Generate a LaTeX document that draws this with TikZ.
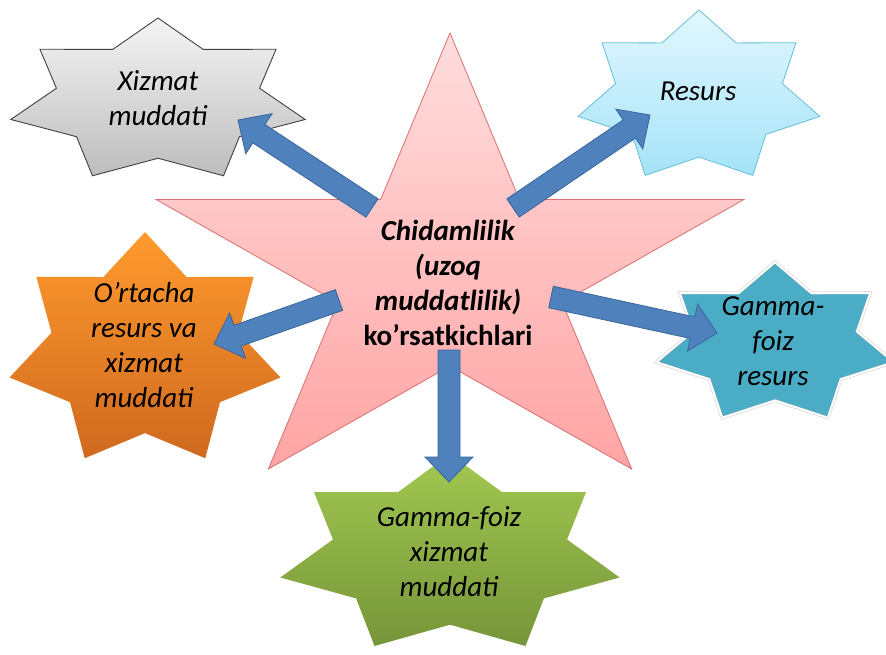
\documentclass[tikz,border=0pt]{standalone}
\usepackage{fontspec}
\setmainfont{Carlito}
\usetikzlibrary{calc}

\definecolor{arrowblue}{HTML}{4F81BD}
\definecolor{arrowedge}{HTML}{3A669B}
\definecolor{pinktop}{HTML}{FFDDDD}
\definecolor{pinkbot}{HTML}{FFA4A4}
\definecolor{pinkedge}{HTML}{D9706F}
\definecolor{greytop}{HTML}{F4F4F4}
\definecolor{greybot}{HTML}{BDBDBD}
\definecolor{skytop}{HTML}{E2F7FE}
\definecolor{skybot}{HTML}{A5E3F8}
\definecolor{skyedge}{HTML}{63BFD9}
\definecolor{orangetop}{HTML}{FF9A2E}
\definecolor{orangebot}{HTML}{CF691F}
\definecolor{teal}{HTML}{4BACC6}
\definecolor{greentop}{HTML}{A2C850}
\definecolor{greenbot}{HTML}{76953A}

% star outline: style, points, inner ratio, centre x, centre y, x radius, y radius
\newcommand{\starpoly}[7]{%
  \pgfmathtruncatemacro\nlast{#2-1}
  \path[#1] ({#4},{#5-#7})
    \foreach \k in {1,...,\nlast}{
      -- ({#4+#3*#6*cos(-90+(2*\k-1)*180/#2)},{#5+#3*#7*sin(-90+(2*\k-1)*180/#2)})
      -- ({#4+#6*cos(-90+\k*360/#2)},{#5+#7*sin(-90+\k*360/#2)})
    }
    -- ({#4+#3*#6*cos(-90-180/#2)},{#5+#3*#7*sin(-90-180/#2)}) -- cycle;
}

% fat arrow from tail #1 to tip #2
\newcommand{\blockarrow}[2]{%
  \path[blockarrow] ($(#1)!11pt!90:(#2)$)
    -- ($(#2)!25pt!(#1)!11pt!-90:(#1)$)
    -- ($(#2)!25pt!(#1)!24pt!-90:(#1)$)
    -- (#2)
    -- ($(#2)!25pt!(#1)!24pt!90:(#1)$)
    -- ($(#2)!25pt!(#1)!11pt!90:(#1)$)
    -- ($(#1)!11pt!-90:(#2)$) -- cycle;
}

\tikzset{
  blockarrow/.style={fill=arrowblue, draw=arrowedge, line width=0.8pt, line join=miter},
  sat/.style={font=\fontsize{29}{35}\selectfont\itshape, align=center, inner sep=0pt},
  centre/.style={font=\fontsize{29}{35}\selectfont\bfseries, align=center, inner sep=0pt},
}

\begin{document}
\begin{tikzpicture}[x=1pt,y=-1pt]
  \useasboundingbox (0,0) rectangle (886,655);
  \clip (0,0) rectangle (886,655);

  %% the stars
  \starpoly{top color=pinktop, bottom color=pinkbot, draw=pinkedge, line width=0.8pt}{5}{0.382}{450}{274}{309}{241}
  \starpoly{top color=greytop, bottom color=greybot, draw=black!75, line width=0.9pt}{7}{0.69}{158}{101}{151}{83}
  \starpoly{top color=skytop, bottom color=skybot, draw=skyedge, line width=0.8pt}{7}{0.69}{699}{97}{124}{87}
  \starpoly{top color=orangetop, bottom color=orangebot}{7}{0.69}{145}{351}{139}{119}
  \starpoly{fill=teal, draw=black!25, double=white, double distance=2pt, line width=0.4pt}{7}{0.69}{775}{344}{122}{82}
  \starpoly{top color=greentop, bottom color=greenbot}{7}{0.69}{450}{555}{174}{101}

  %% texts
  \node[centre] (chidam) at (448,283) {\textit{Chidamlilik}\\\textit{(uzoq}\\\textit{muddatlilik)}\\ko’rsatkichlari};
  \node[sat] (xizmat) at (158,98) {Xizmat\\muddati};
  \node[sat] (resurs) at (698,91) {Resurs};
  \node[sat] (ortacha) at (144,345) {O’rtacha\\resurs va\\xizmat\\muddati};
  \node[sat] (gfresurs) at (773,341) {Gamma-\\foiz\\resurs};
  \node[sat] (gfxizmat) at (449,552) {Gamma-foiz\\xizmat\\muddati};

  %% arrow ends
  \coordinate (t1) at (372,208);  \coordinate (h1) at (238,120);
  \coordinate (t2) at (513,208);  \coordinate (h2) at (650,115);
  \coordinate (t3) at (339,300);  \coordinate (h3) at (214,344);
  \coordinate (t4) at (551,297);  \coordinate (h4) at (717,333);
  \coordinate (t5) at (449,350);  \coordinate (h5) at (449,482);

  \foreach \s/\e in {t1/h1, t2/h2, t3/h3, t4/h4, t5/h5}
    \blockarrow{\s}{\e};
\end{tikzpicture}
\end{document}
